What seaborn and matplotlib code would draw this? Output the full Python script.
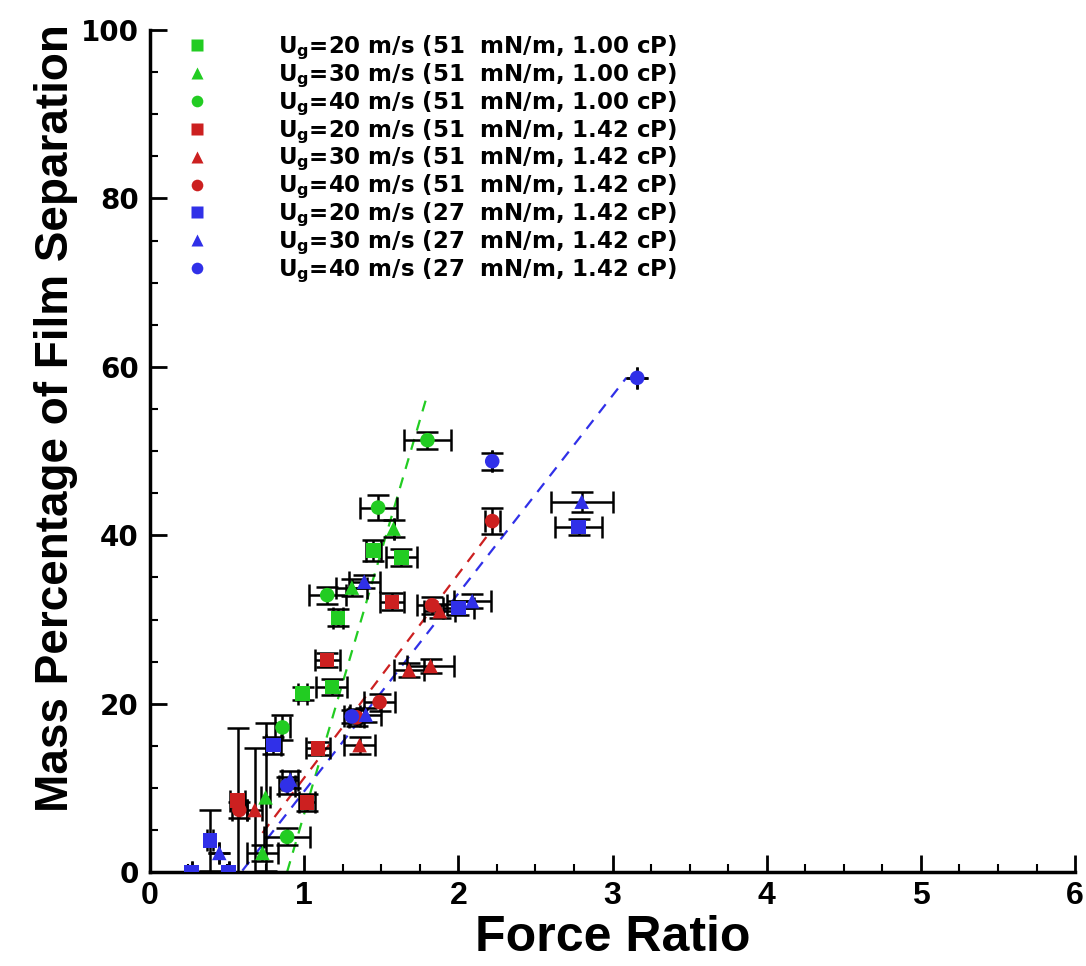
import numpy as np
import pandas as pd
import matplotlib
matplotlib.use("Agg")
import matplotlib.pyplot as plt
from matplotlib.ticker import MultipleLocator
import seaborn as sns

sns.set_theme(style="ticks")
plt.rcParams['font.family'] = ['Liberation Sans', 'DejaVu Sans']
plt.rcParams['mathtext.fontset'] = 'custom'
plt.rcParams['mathtext.rm'] = 'DejaVu Sans:bold'
plt.rcParams['mathtext.it'] = 'DejaVu Sans:bold'
plt.rcParams['mathtext.bf'] = 'DejaVu Sans:bold'
for key in ['text.color', 'axes.labelcolor', 'xtick.color', 'ytick.color', 'axes.edgecolor']:
    plt.rcParams[key] = 'black'

# ---------------- data ----------------
labels = [
    "U$_g$=20 m/s (51  mN/m, 1.00 cP)",
    "U$_g$=30 m/s (51  mN/m, 1.00 cP)",
    "U$_g$=40 m/s (51  mN/m, 1.00 cP)",
    "U$_g$=20 m/s (51  mN/m, 1.42 cP)",
    "U$_g$=30 m/s (51  mN/m, 1.42 cP)",
    "U$_g$=40 m/s (51  mN/m, 1.42 cP)",
    "U$_g$=20 m/s (27  mN/m, 1.42 cP)",
    "U$_g$=30 m/s (27  mN/m, 1.42 cP)",
    "U$_g$=40 m/s (27  mN/m, 1.42 cP)",
]

g20_x = [1.22, 1.18, 0.99, 1.45, 1.63]
g20_y = [30.2, 22.0, 21.2, 38.2, 37.4]
g20_xe = [0.03, 0.10, 0.03, 0.05, 0.10]
g20_ye = [1.0, 1.0, 0.8, 1.2, 1.0]

g30_x = [1.58, 1.31, 0.75, 0.73]
g30_y = [40.8, 33.8, 8.9, 2.3]
g30_xe = [0.0, 0.10, 0.03, 0.10]
g30_ye = [1.0, 1.0, 8.8, 1.0]

g40_x = [1.80, 1.48, 1.15, 0.86, 0.89]
g40_y = [51.3, 43.3, 32.9, 17.2, 4.2]
g40_xe = [0.15, 0.12, 0.12, 0.05, 0.15]
g40_ye = [1.0, 1.5, 1.0, 1.5, 1.0]

r20_x = [1.15, 1.57, 1.09, 0.57, 1.02]
r20_y = [25.2, 32.1, 14.7, 8.5, 8.3]
r20_xe = [0.08, 0.08, 0.08, 0.05, 0.05]
r20_ye = [0.8, 1.0, 0.8, 8.6, 1.0]

r30_x = [1.36, 1.68, 1.82, 1.88, 0.68]
r30_y = [15.1, 24.0, 24.5, 31.0, 7.4]
r30_xe = [0.10, 0.10, 0.15, 0.10, 0.05]
r30_ye = [1.0, 0.8, 0.8, 0.8, 7.4]

r40_x = [2.22, 1.49, 1.83, 0.58, 1.34]
r40_y = [41.7, 20.2, 31.7, 7.4, 18.4]
r40_xe = [0.05, 0.10, 0.10, 0.05, 0.05]
r40_ye = [1.5, 1.0, 1.0, 1.0, 1.0]

b20_x = [2.78, 0.39, 0.27, 0.51, 0.80, 2.00]
b20_y = [41.0, 3.8, 0.0, 0.0, 15.1, 31.4]
b20_xe = [0.15, 0.02, 0.0, 0.0, 0.05, 0.10]
b20_ye = [1.0, 3.6, 0.0, 0.0, 1.0, 0.8]

b30_x = [2.80, 1.39, 2.09, 0.45, 1.40, 0.91]
b30_y = [44.0, 34.5, 32.2, 2.3, 18.7, 11.0]
b30_xe = [0.20, 0.10, 0.12, 0.0, 0.10, 0.05]
b30_ye = [1.2, 0.8, 0.8, 0.0, 0.8, 1.0]

b40_x = [3.16, 2.22, 1.31, 0.89]
b40_y = [58.7, 48.8, 18.5, 10.3]
b40_xe = [0.0, 0.0, 0.05, 0.05]
b40_ye = [0.0, 1.0, 0.8, 1.0]

# linear fits per liquid: slope, intercept, x-range
fit_groups = ["51 mN/m, 1.00 cP", "51 mN/m, 1.42 cP", "27 mN/m, 1.42 cP"]
fit_slope = [62.3, 24.2, 23.5]
fit_intercept = [-55.4, -13.0, -13.9]
fit_xmin = [0.89, 0.73, 0.60]
fit_xmax = [1.80, 2.27, 3.09]

x_ticks = [0, 1, 2, 3, 4, 5, 6]
y_ticks = [0, 20, 40, 60, 80, 100]

# ---------------- styling ----------------
GREEN = "#22cc22"
RED = "#cc2020"
BLUE = "#3030e8"
colors = [GREEN] * 3 + [RED] * 3 + [BLUE] * 3
markers = ["s", "^", "o"] * 3
fit_colors = [GREEN, RED, BLUE]

series = [
    (g20_x, g20_y, g20_xe, g20_ye), (g30_x, g30_y, g30_xe, g30_ye), (g40_x, g40_y, g40_xe, g40_ye),
    (r20_x, r20_y, r20_xe, r20_ye), (r30_x, r30_y, r30_xe, r30_ye), (r40_x, r40_y, r40_xe, r40_ye),
    (b20_x, b20_y, b20_xe, b20_ye), (b30_x, b30_y, b30_xe, b30_ye), (b40_x, b40_y, b40_xe, b40_ye),
]

frames = []
for lab, (xs, ys, xe, ye) in zip(labels, series):
    frames.append(pd.DataFrame({"Force Ratio": xs, "Mass": ys, "xerr": xe, "yerr": ye, "series": lab}))
df = pd.concat(frames, ignore_index=True)

fig = plt.figure(figsize=(10.86, 9.66), dpi=100)
ax = fig.add_axes([0.138, 0.097, 0.852, 0.872])

# fit lines
for i, g in enumerate(fit_groups):
    xs = np.linspace(fit_xmin[i], fit_xmax[i], 50)
    ys = fit_slope[i] * xs + fit_intercept[i]
    sns.lineplot(x=xs, y=ys, ax=ax, color=fit_colors[i], lw=1.6,
                 dashes=False, linestyle=(0, (5, 4)), legend=False, zorder=2)

# error bars
for lab in labels:
    sub = df[df["series"] == lab]
    ax.errorbar(sub["Force Ratio"], sub["Mass"], xerr=sub["xerr"], yerr=sub["yerr"],
                fmt="none", ecolor="black", elinewidth=1.8, capsize=8, capthick=1.8, zorder=3)

sns.scatterplot(data=df, x="Force Ratio", y="Mass", hue="series", style="series",
                hue_order=labels, style_order=labels,
                palette=dict(zip(labels, colors)), markers=dict(zip(labels, markers)),
                s=110, edgecolor="none", ax=ax, zorder=4, legend=True)

ax.set_xlim(0, 6)
ax.set_ylim(0, 100)
ax.set_xticks(x_ticks)
ax.set_yticks(y_ticks)
ax.xaxis.set_minor_locator(MultipleLocator(0.25))
ax.yaxis.set_minor_locator(MultipleLocator(5))
ax.tick_params(which="major", direction="in", length=12, width=2, pad=8, colors="black")
ax.tick_params(axis="x", which="major", pad=6)
ax.tick_params(which="minor", direction="in", length=6, width=1.5, colors="black")
for lbl in ax.get_xticklabels():
    lbl.set_fontweight("bold")
    lbl.set_fontsize(23)
for lbl in ax.get_yticklabels():
    lbl.set_fontfamily(['DejaVu Sans'])
    lbl.set_fontweight("bold")
    lbl.set_fontsize(20)
for s in ["top", "right"]:
    ax.spines[s].set_visible(False)
for s in ["left", "bottom"]:
    ax.spines[s].set_linewidth(2.5)
    ax.spines[s].set_color("black")

ax.set_xlabel("Force Ratio", fontsize=36, fontweight="bold", color="black")
ax.set_ylabel("Mass Percentage of Film Separation", fontsize=33, fontweight="bold", color="black")
ax.xaxis.set_label_coords(0.5, -0.051)
ax.yaxis.set_label_coords(-0.078, 0.539)

handles, hl = ax.get_legend_handles_labels()
leg = ax.legend(handles, hl, loc="upper left", bbox_to_anchor=(0.039, 0.996), frameon=False,
                prop={"family": "DejaVu Sans", "weight": "bold", "size": 16.5},
                handlelength=1.0, handletextpad=3.0, labelspacing=-0.02, markerscale=0.8,
                borderaxespad=0, borderpad=0)
for t in leg.get_texts():
    t.set_color("black")

fig.savefig("out.png", dpi=100)
